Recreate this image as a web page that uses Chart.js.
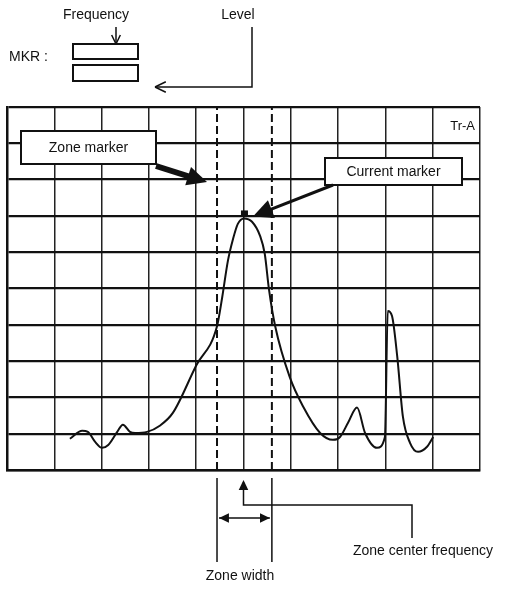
<!doctype html>
<html>
<head>
    <title>Zone marker</title>
    <script src="https://cdn.jsdelivr.net/npm/chart.js"></script>
    <style>
        body { margin: 0; background: #fff; }
    </style>
</head>
<body>
    <canvas id="tela" width="515" height="590"></canvas>

    <script>
        // trace in divisions (10 x 10 grid)
        var traceX = [1.33, 1.59, 1.71, 1.86, 2.01, 2.14, 2.33, 2.45, 2.60, 2.71, 2.96, 3.23, 3.51, 4.0, 4.44, 4.55, 4.67, 4.78, 4.88, 5.01, 5.18, 5.35, 5.45, 5.54, 5.67, 5.98, 6.26, 6.62, 6.89, 7.04, 7.21, 7.40, 7.57, 7.82, 7.99, 8.05, 8.14, 8.25, 8.37, 8.52, 8.69, 8.88, 9.01];
        var traceY = [0.86, 1.08, 1.05, 0.78, 0.61, 0.69, 1.05, 1.25, 1.05, 1.02, 1.05, 1.22, 1.58, 2.88, 3.96, 4.76, 5.76, 6.37, 6.78, 6.93, 6.84, 6.45, 5.95, 4.96, 3.96, 2.55, 1.75, 1.02, 0.83, 0.91, 1.30, 1.72, 1.02, 0.61, 0.91, 4.38, 4.24, 3.13, 1.47, 0.75, 0.50, 0.64, 0.91];

        var zoneLeft = 4.44;
        var zoneRight = 5.6;
        var zoneCenter = 5.0;
        var peakX = 5.01;
        var peakY = 6.93;

        var gridTicks = [0, 1, 2, 3, 4, 5, 6, 7, 8, 9, 10];

        var pontos = traceX.map(function (x, i) { return { x: x, y: traceY[i] }; });

        function linhaZona(x) {
            return {
                data: [{ x: x, y: 0 }, { x: x, y: 10 }],
                borderColor: '#111',
                borderWidth: 2,
                borderDash: [8, 4],
                pointRadius: 0,
                tension: 0
            };
        }

        function seta(ctx, x1, y1, x2, y2, tam, cheia) {
            var ang = Math.atan2(y2 - y1, x2 - x1);
            ctx.beginPath();
            ctx.moveTo(x2, y2);
            ctx.lineTo(x2 - tam * Math.cos(ang - 0.45), y2 - tam * Math.sin(ang - 0.45));
            if (cheia) {
                ctx.lineTo(x2 - tam * Math.cos(ang + 0.45), y2 - tam * Math.sin(ang + 0.45));
                ctx.closePath();
                ctx.fill();
            } else {
                ctx.moveTo(x2, y2);
                ctx.lineTo(x2 - tam * Math.cos(ang + 0.45), y2 - tam * Math.sin(ang + 0.45));
                ctx.stroke();
            }
        }

        function caixa(ctx, x, y, w, h, texto) {
            ctx.fillStyle = '#fff';
            ctx.fillRect(x, y, w, h);
            ctx.lineWidth = 2;
            ctx.strokeRect(x, y, w, h);
            ctx.fillStyle = '#111';
            if (texto) {
                ctx.textAlign = 'center';
                ctx.textBaseline = 'middle';
                ctx.fillText(texto, x + w / 2, y + h / 2 + 1);
            }
        }

        var anotacoes = {
            id: 'anotacoes',
            afterDraw: function (chart) {
                var ctx = chart.ctx;
                var sx = chart.scales.x;
                var sy = chart.scales.y;
                var area = chart.chartArea;
                ctx.save();
                ctx.strokeStyle = '#111';
                ctx.fillStyle = '#111';
                ctx.font = '14px "Liberation Sans", Arial, sans-serif';
                ctx.lineCap = 'butt';

                // header: MKR boxes
                ctx.textAlign = 'center';
                ctx.textBaseline = 'middle';
                ctx.fillText('Frequency', 96, 15);
                ctx.fillText('Level', 238, 15);
                ctx.textAlign = 'left';
                ctx.fillText('MKR :', 9, 57);
                caixa(ctx, 73, 44, 65, 15);
                caixa(ctx, 73, 65, 65, 16);

                ctx.lineWidth = 1.5;
                ctx.beginPath();
                ctx.moveTo(116, 27);
                ctx.lineTo(116, 44);
                ctx.stroke();
                seta(ctx, 116, 27, 116, 44, 10, false);

                ctx.beginPath();
                ctx.moveTo(252, 27);
                ctx.lineTo(252, 87);
                ctx.lineTo(155, 87);
                ctx.stroke();
                seta(ctx, 252, 87, 155, 87, 12, false);

                // Tr-A
                ctx.font = '13px "Liberation Sans", Arial, sans-serif';
                ctx.textAlign = 'right';
                ctx.fillText('Tr-A', area.right - 5, area.top + 19);
                ctx.font = '14px "Liberation Sans", Arial, sans-serif';

                // marker on the peak
                var px = sx.getPixelForValue(peakX);
                var py = sy.getPixelForValue(peakY);
                ctx.fillRect(px - 3, py - 8, 7, 5);

                // Zone marker box + thick arrow
                var zl = sx.getPixelForValue(zoneLeft);
                var zr = sx.getPixelForValue(zoneRight);
                var zc = sx.getPixelForValue(zoneCenter);
                caixa(ctx, 21, 131, 135, 33, 'Zone marker');
                ctx.lineWidth = 6;
                ctx.beginPath();
                ctx.moveTo(156, 166);
                ctx.lineTo(zl - 20, 179);
                ctx.stroke();
                ctx.lineWidth = 2;
                seta(ctx, 156, 166, zl - 10, 182, 22, true);

                // Current marker box + arrow
                caixa(ctx, 325, 158, 137, 27, 'Current marker');
                ctx.lineWidth = 3;
                ctx.beginPath();
                ctx.moveTo(333, 185);
                ctx.lineTo(px + 14, py - 4);
                ctx.stroke();
                ctx.lineWidth = 2;
                seta(ctx, 333, 185, px + 9, py - 2, 22, true);

                // below the screen: zone width and center
                var yb = area.bottom;
                ctx.lineWidth = 1.5;
                ctx.beginPath();
                ctx.moveTo(zl, yb + 8);
                ctx.lineTo(zl, yb + 92);
                ctx.moveTo(zr, yb + 8);
                ctx.lineTo(zr, yb + 92);
                ctx.moveTo(zl + 2, yb + 48);
                ctx.lineTo(zr - 2, yb + 48);
                ctx.stroke();
                seta(ctx, zr - 2, yb + 48, zl + 2, yb + 48, 11, true);
                seta(ctx, zl + 2, yb + 48, zr - 2, yb + 48, 11, true);

                ctx.beginPath();
                ctx.moveTo(zc, yb + 12);
                ctx.lineTo(zc, yb + 35);
                ctx.lineTo(412, yb + 35);
                ctx.lineTo(412, yb + 68);
                ctx.stroke();
                seta(ctx, zc, yb + 35, zc, yb + 10, 11, true);

                ctx.textAlign = 'center';
                ctx.fillText('Zone center frequency', 423, yb + 81);
                ctx.fillText('Zone width', 240, yb + 106);

                ctx.restore();
            }
        };

        var grafico = new Chart(document.getElementById('tela').getContext('2d'), {
            type: 'line',
            data: {
                datasets: [
                    {
                        data: pontos,
                        borderColor: '#111',
                        borderWidth: 2,
                        pointRadius: 0,
                        cubicInterpolationMode: 'monotone'
                    },
                    linhaZona(zoneLeft),
                    linhaZona(zoneRight)
                ]
            },
            options: {
                responsive: false,
                animation: false,
                devicePixelRatio: 1,
                layout: {
                    padding: { left: 7, right: 35, top: 107, bottom: 120 }
                },
                plugins: {
                    legend: { display: false },
                    tooltip: { enabled: false }
                },
                scales: {
                    x: {
                        type: 'linear',
                        min: 0,
                        max: 10,
                        afterBuildTicks: function (s) { s.ticks = gridTicks.map(function (v) { return { value: v }; }); },
                        ticks: { display: false },
                        grid: { color: '#222', lineWidth: 1.5, drawTicks: false },
                        border: { color: '#111', width: 2.5 }
                    },
                    y: {
                        min: 0,
                        max: 10,
                        afterBuildTicks: function (s) { s.ticks = gridTicks.map(function (v) { return { value: v }; }); },
                        ticks: { display: false },
                        grid: { color: '#111', lineWidth: 2.2, drawTicks: false },
                        border: { color: '#111', width: 2.5 }
                    }
                }
            },
            plugins: [anotacoes]
        });
    </script>
</body>
</html>
